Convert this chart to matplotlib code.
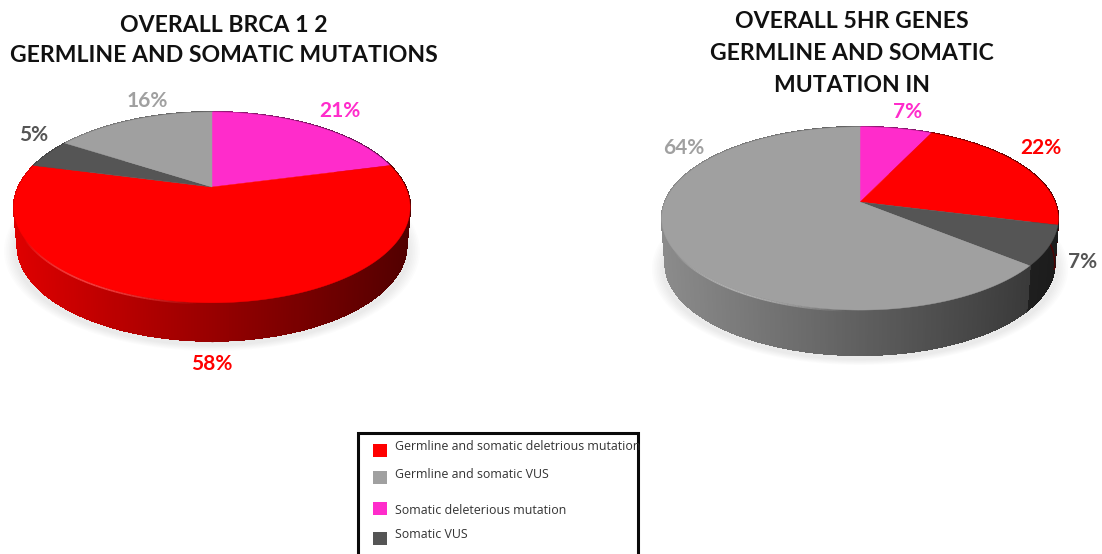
import numpy as np
import matplotlib
matplotlib.use("Agg")
import matplotlib.pyplot as plt
from matplotlib.collections import PolyCollection, LineCollection
from matplotlib.patches import Rectangle

# ---- data ----
left_title = ["OVERALL BRCA 1 2", "GERMLINE AND SOMATIC MUTATIONS"]
right_title = ["OVERALL 5HR GENES", "GERMLINE AND SOMATIC", "MUTATION IN"]
left_cats = ["Somatic deleterious mutation", "Germline and somatic deletrious mutation",
             "Somatic VUS", "Germline and somatic VUS"]
left_vals = [21, 58, 5, 16]
right_cats = ["Somatic deleterious mutation", "Germline and somatic deletrious mutation",
              "Somatic VUS", "Germline and somatic VUS"]
right_vals = [7, 22, 7, 64]
legend_cats = ["Germline and somatic deletrious mutation", "Germline and somatic VUS",
               "Somatic deleterious mutation", "Somatic VUS"]

# ---- style ----
colors = {"Germline and somatic deletrious mutation": "#ff0000",
          "Germline and somatic VUS": "#a0a0a0",
          "Somatic deleterious mutation": "#ff2ccb",
          "Somatic VUS": "#555555"}
FONT = "Lato"

fig = plt.figure(figsize=(11.02, 5.54), dpi=100)
ax = fig.add_axes([0, 0, 1, 1])
ax.set_xlim(0, 1102)
ax.set_ylim(554, 0)
ax.axis("off")


def project(theta, cx, cy, rx, ry, k):
    """Perspective map of the unit disc; theta clockwise from 12 o'clock."""
    x, y = np.sin(theta), np.cos(theta)
    w = 1 + k * y
    return cx + rx * x / w, cy - ry * y / w


def pie3d(cats, vals, cx, cy, rx, ry, k, depth, halfw):
    fr = np.cumsum([0] + list(vals)) / np.sum(vals) * 2 * np.pi
    shrink = 0.982
    # soft shadow
    th = np.linspace(0, 2 * np.pi, 240)
    X, Y = project(th, cx, cy, rx, ry, k)
    Yc = Y.mean()
    for g in np.linspace(1.05, 1.0, 7):
        ax.fill(cx + (X - cx) * g, Yc + depth + 5 + (Y - Yc) * g, color="k", alpha=0.012, lw=0, zorder=1)
    # side wall
    polys, cols, lower = [], [], []
    for i, c in enumerate(cats):
        base = np.array(matplotlib.colors.to_rgb(colors[c]))
        n = max(int((fr[i + 1] - fr[i]) / 0.012), 2)
        t = np.linspace(fr[i], fr[i + 1], n + 1)
        xs, ys = project(t, cx, cy, rx, ry, k)
        xb = cx + (xs - cx) * shrink
        yb = ys + depth
        for j in range(n):
            polys.append([(xs[j], ys[j]), (xs[j + 1], ys[j + 1]),
                          (xb[j + 1], yb[j + 1]), (xb[j], yb[j])])
            f = 0.87 - 0.55 * (0.5 * (xs[j] + xs[j + 1]) - (cx - halfw)) / (2 * halfw)
            cols.append(tuple(base * f))
            lower.append([(xb[j], yb[j]), (xb[j + 1], yb[j + 1])])
    ax.add_collection(PolyCollection(polys, facecolors=cols, edgecolors=cols, linewidths=0.8,
                                     antialiaseds=False, zorder=2))
    ax.add_collection(LineCollection(lower, colors=cols, linewidths=1.0, zorder=2.5))
    # top surface
    for i, c in enumerate(cats):
        t = np.linspace(fr[i], fr[i + 1], 160)
        xs, ys = project(t, cx, cy, rx, ry, k)
        ax.fill(np.r_[cx, xs], np.r_[cy, ys], color=colors[c], lw=0.3, zorder=3)
    # bevel highlight along the front-left rim, fading at both ends
    a, b = np.radians(183), np.radians(240)
    for i, c in enumerate(cats):
        lo, hi = max(fr[i], a), min(fr[i + 1], b)
        if lo < hi:
            t = np.linspace(lo, hi, 81)
            xs, ys = project(t, cx, cy, rx, ry, k)
            base = np.array(matplotlib.colors.to_rgb(colors[c]))
            segs = [[(xs[j], ys[j] + 1), (xs[j + 1], ys[j + 1] + 1)] for j in range(80)]
            fade = np.sin(np.pi * (t[:-1] - a) / (b - a))
            seg_cols = [(*(base + (1 - base) * 0.3), 0.8 * v) for v in fade]
            ax.add_collection(LineCollection(segs, colors=seg_cols, linewidths=1.2, zorder=4))


pie3d(left_cats, left_vals, 212, 187, 193.5, 91, 0.214, 38, 198.5)
pie3d(right_cats, right_vals, 860, 202, 195, 88.6, 0.18, 45, 198.5)


def value_labels(cats, vals, anchors):
    for c, v, (x, y) in zip(cats, vals, anchors):
        ax.text(x, y, f"{v}%", color=colors[c], family=FONT, weight="bold", fontsize=15,
                ha="center", va="center", zorder=6)


value_labels(left_cats, left_vals, [(340, 111), (212, 364), (34, 135), (147, 101)])
value_labels(right_cats, right_vals, [(908, 112), (1041, 148), (1083, 262), (684, 148)])

for line, y in zip(left_title, [25.5, 55]):
    ax.text(224, y, line, family=FONT, weight="bold", fontsize=16.6, color="#111111", ha="center", va="center")
for line, y in zip(right_title, [21.5, 53, 85.5]):
    ax.text(852, y, line, family=FONT, weight="bold", fontsize=16.6, color="#111111", ha="center", va="center")

# legend box runs off the bottom of the picture
ax.add_patch(Rectangle((357.5, 433), 280, 140, fc="white", ec="#0a0a0a", lw=2.2, zorder=5))
for c, sy, ty in zip(legend_cats, [444, 471, 502, 532], [447, 475, 510, 534]):
    ax.add_patch(Rectangle((373, sy), 13.5, 12.5, fc=colors[c], ec="none", zorder=6))
    ax.text(395, ty, c, family="Open Sans", fontsize=8.9, color="#333333", ha="left", va="center", zorder=6)

fig.savefig("out.png", dpi=100)
